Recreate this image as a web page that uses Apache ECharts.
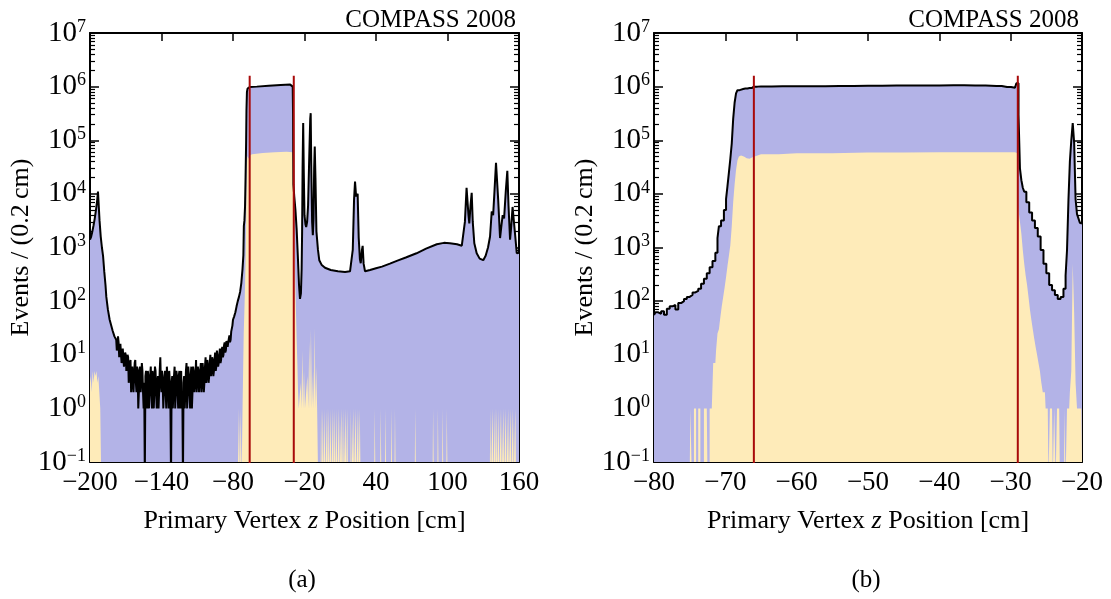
<!DOCTYPE html>
<html>
<head>
<meta charset="utf-8">
<script src="https://cdn.jsdelivr.net/npm/echarts@6/dist/echarts.min.js"></script>
<style>
html, body { margin: 0; padding: 0; background: #fff; }
#main { width: 1111px; height: 599px; }
</style>
</head>
<body>
<div id="main"></div>
<script>
'use strict';

// panel (a): all primary vertices, z from -200 to 160 cm
var aTotal = [
    [-200, 1400], [-199, 1600], [-198, 2000], [-197, 2600], [-196, 3500], [-195, 5000], [-194, 7500], [-193.3, 11000],
    [-192, 3200], [-191, 1600], [-190, 1000], [-189, 680], [-188, 350], [-187, 200], [-186.3, 120], [-185, 70],
    [-183.5, 45], [-181, 28], [-179.5, 22],
    // noisy region between the two targets
    [-178, 19], [-177.5, 12], [-177, 14], [-176.5, 22], [-176, 17], [-175.5, 9], [-175, 11], [-174.5, 16],
    [-174, 15], [-173.5, 7], [-173, 9], [-172.5, 13], [-172, 12], [-171.5, 6], [-171, 7], [-170.5, 11],
    [-170, 10], [-169.5, 5], [-169, 6], [-168.5, 10], [-168, 9], [-167.5, 3], [-167, 4], [-166.5, 7],
    [-166, 8], [-165.5, 2], [-165, 3], [-164.5, 6], [-164, 6], [-163.5, 2], [-163, 4], [-162.5, 7],
    [-162, 8], [-161.5, 3], [-161, 2], [-160.5, 6], [-160, 5], [-159.5, 1], [-159, 2], [-158.5, 5],
    [-158, 6], [-157.5, 2], [-157, 3], [-156.5, 7], [-156, 5], [-155.5, 2], [-155, 1], [-154.5, 3],
    [-154, 0], [-153.5, 4], [-153, 5], [-152.5, 2], [-152, 1], [-151.5, 5], [-151, 4], [-150.5, 1],
    [-150, 2], [-149.5, 4], [-149, 6], [-148.5, 2], [-148, 1], [-147.5, 5], [-147, 4], [-146.5, 1],
    [-146, 2], [-145.5, 6], [-145, 5], [-144.5, 2], [-144, 1], [-143.5, 3], [-143, 4], [-142.5, 1],
    [-142, 2], [-141.5, 5], [-141, 9], [-140.5, 3], [-140, 2], [-139.5, 5], [-139, 3], [-138.5, 1],
    [-138, 1], [-137.5, 4], [-137, 5], [-136.5, 2], [-136, 1], [-135.5, 6], [-135, 4], [-134.5, 2],
    [-134, 1], [-133.5, 5], [-133, 3], [-132.5, 1], [-132, 0], [-131.5, 3], [-131, 4], [-130.5, 1],
    [-130, 1], [-129.5, 4], [-129, 6], [-128.5, 1], [-128, 2], [-127.5, 5], [-127, 4], [-126.5, 2],
    [-126, 1], [-125.5, 4], [-125, 5], [-124.5, 1], [-124, 2], [-123.5, 5], [-123, 1], [-122.5, 2],
    [-122, 0], [-121.5, 3], [-121, 4], [-120.5, 1], [-120, 2], [-119.5, 5], [-119, 7], [-118.5, 1],
    [-118, 2], [-117.5, 6], [-117, 4], [-116.5, 2], [-116, 1], [-115.5, 4], [-115, 6], [-114.5, 1],
    [-114, 2], [-113.5, 6], [-113, 5], [-112.5, 2], [-112, 2], [-111.5, 4], [-111, 8], [-110.5, 2],
    [-110, 3], [-109.5, 6], [-109, 5], [-108.5, 2], [-108, 2], [-107.5, 5], [-107, 7], [-106.5, 2],
    [-106, 3], [-105.5, 7], [-105, 5], [-104.5, 2], [-104, 3], [-103.5, 6], [-103, 9], [-102.5, 3],
    [-102, 4], [-101.5, 8], [-101, 6], [-100.5, 3], [-100, 4], [-99.5, 7], [-99, 10], [-98.5, 4],
    [-98, 5], [-97.5, 9], [-97, 8], [-96.5, 4], [-96, 5], [-95.5, 8], [-95, 11], [-94.5, 5],
    [-94, 6], [-93.5, 12], [-93, 9], [-92.5, 6], [-92, 7], [-91.5, 10], [-91, 13], [-90.5, 7],
    [-90, 8], [-89.5, 12], [-89, 14], [-88.5, 9], [-88, 10], [-87.5, 15], [-87, 17], [-86.5, 11],
    [-86, 12], [-85.5, 18], [-85, 19], [-84.5, 14], [-84, 15], [-83.5, 20], [-83, 23], [-82.5, 17],
    [-82, 19], [-81.5, 27], [-81, 29], [-80.5, 35], [-80, 45],
    [-79, 52], [-78, 62], [-77, 80], [-76, 100], [-75, 120], [-74, 150], [-73, 220], [-72, 400], [-71.3, 720],
    [-70.9, 2500], [-70.4, 3200], [-69.9, 5800], [-69.5, 18000], [-69, 87000], [-68.7, 360000], [-68.3, 800000],
    [-67.8, 920000], [-66, 980000], [-60, 1000000], [-50, 1040000], [-40, 1070000], [-32, 1090000], [-30.4, 1080000],
    [-29.9, 1000000], [-29.6, 300000], [-29.3, 15000], [-28.6, 9000], [-27.6, 5000], [-26.6, 2200], [-25.6, 700],
    [-24.6, 200], [-23.8, 110], [-23, 140], [-22.4, 400], [-22, 2000], [-21.6, 30000], [-21.1, 210000], [-20.6, 25000],
    [-20, 4000], [-19.2, 2700], [-18.6, 2400], [-17.8, 3000], [-17, 6000], [-16, 50000], [-15.2, 250000],
    [-14.8, 320000], [-14.3, 30000], [-13.6, 3000], [-13, 1700], [-12.4, 3500], [-11.9, 30000], [-11.4, 76000],
    [-10.8, 20000], [-10, 2000], [-8.7, 900], [-7.6, 580], [-5.5, 470], [-2.8, 420], [2, 380], [8, 360], [14, 350],
    [18.2, 360], [20.5, 900], [21.6, 8000], [22.4, 17000], [23.3, 9000], [24.6, 10000], [25.5, 1500], [26.5, 600],
    [27.2, 510], [28.2, 900], [28.8, 1070], [29.6, 500], [30.8, 360], [35, 380], [40, 410], [45, 440], [51.7, 500],
    [58, 570], [65, 650], [74, 780], [82, 950], [91, 1150], [97, 1220], [102, 1200], [108, 1150], [112, 1080],
    [113.3, 1150], [114.6, 3000], [116, 13000], [116.6, 12000], [117.6, 4000], [118.3, 2800], [119.3, 6000],
    [120.3, 10500], [121.2, 3000], [122.5, 1200], [124.5, 780], [127, 620], [130, 580], [132, 700], [134, 1000],
    [135.7, 1600], [137.1, 4700], [138.3, 4000], [139.5, 12000], [140.7, 38000], [141.5, 40000], [142.5, 8000],
    [144.1, 1500], [145.2, 2500], [146.3, 4000], [147.5, 3500], [149, 12000], [150.2, 27000], [151.2, 6000],
    [152.5, 1400], [153.5, 2500], [154.6, 5700], [155.8, 5700], [157, 1500], [158.1, 780], [160, 800]
];
// panel (a): vertices inside the target cut
var aSelected = [
    [-200, 3], [-199.4, 4], [-198.6, 2], [-197.8, 5], [-197, 3], [-196.2, 5], [-195.4, 4], [-194.6, 5], [-193.8, 3],
    [-193, 4], [-192.2, 2], [-191.4, 1], [-190.6, 0], [-76, 0], [-75, 1], [-74.2, 0], [-73.6, 1], [-72.8, 0],
    [-72, 1], [-71.4, 7], [-71, 25], [-70.5, 60], [-69.9, 190], [-69.2, 1000], [-68.8, 7600], [-68.4, 28000],
    [-68.1, 46000], [-67.8, 51000], [-66.9, 45000], [-66, 52000], [-64, 55000], [-55, 58000], [-45, 60000],
    [-35, 61000], [-30, 60000], [-29.5, 58000], [-29, 9000], [-28.4, 1800], [-27.8, 300], [-27.2, 70], [-26.6, 20],
    [-26, 7], [-25.4, 2], [-24.8, 1], [-24, 1], [-23.2, 3], [-22.6, 1], [-21.8, 12], [-21.2, 1], [-20.4, 5],
    [-19.6, 1], [-18.6, 1], [-17.6, 4], [-16.8, 1], [-16, 18], [-15.4, 1], [-14.6, 30], [-13.8, 1], [-12.8, 5],
    [-12.2, 1], [-11.4, 32], [-10.8, 1], [-10.2, 6], [-9.4, 1], [-8.6, 0]
];
// single selected events scattered downstream
var aSelectedOnes = [-6, -4.5, -3, -1, 0.5, 2, 4, 5.5, 7, 9, 11, 12.5, 14.5, 16, 19, 21, 23, 25, 26.5,
    39, 44, 48, 53, 56, 73, 88, 92, 96, 99.5, 136, 138, 140, 141.5, 143, 145, 147, 149, 151, 153, 155, 157];

// panel (b): zoom on the target region
var bTotal = [
    [-80, 55], [-79.6, 62], [-79.2, 58], [-78.8, 65], [-78.4, 56], [-78, 72], [-77.6, 80], [-77.2, 85], [-76.8, 70],
    [-76.4, 92], [-76, 100], [-75.6, 110], [-75.2, 120], [-74.8, 130], [-74.4, 145], [-74, 155], [-73.6, 170],
    [-73.2, 210], [-72.8, 260], [-72.4, 330], [-72, 430], [-71.6, 560], [-71.2, 800], [-71, 1500], [-70.8, 2500],
    [-70.4, 3200], [-70, 5000], [-69.8, 8000], [-69.6, 14000], [-69.4, 25000], [-69.2, 45000], [-69, 87000],
    [-68.8, 250000], [-68.6, 500000], [-68.4, 750000], [-68.2, 860000], [-67.8, 900000], [-67.2, 920000],
    [-66.6, 940000], [-66, 1000000], [-65, 1010000], [-62, 1015000], [-58, 1020000], [-54, 1030000],
    [-50, 1040000], [-46, 1050000], [-42, 1055000], [-38, 1060000], [-35, 1050000], [-32, 1030000],
    [-30.5, 980000], [-29.4, 950000],
    [-29, 1150000], [-28.8, 300000], [-28.6, 30000], [-28.4, 18000], [-28.2, 13000], [-28, 11000], [-27.6, 7000],
    [-27.2, 4500], [-26.8, 3200], [-26.4, 2300], [-26, 1600], [-25.6, 900], [-25.2, 500], [-24.8, 330],
    [-24.4, 200], [-24, 160], [-23.6, 130], [-23.2, 110], [-22.8, 120], [-22.4, 170], [-22.2, 300], [-22, 900],
    [-21.8, 7600], [-21.6, 40000], [-21.4, 100000], [-21.2, 210000], [-21, 90000], [-20.8, 8000], [-20.6, 4200],
    [-20.4, 3500], [-20.2, 2900], [-20, 2800]
];
var bSelected = [
    [-80, 0], [-75, 0], [-74.8, 1], [-74.6, 0], [-74.2, 1], [-74, 0], [-73.6, 1], [-73.4, 0], [-72.6, 1], [-72.4, 0],
    [-72, 1], [-71.8, 1], [-71.6, 7], [-71.4, 7], [-71.2, 12], [-71, 25], [-70.8, 30], [-70.6, 50], [-70.4, 80],
    [-70.2, 120], [-70, 180], [-69.8, 280], [-69.6, 450], [-69.4, 700], [-69.2, 1100], [-69, 2500], [-68.8, 7000],
    [-68.6, 15000], [-68.4, 28000], [-68.2, 42000], [-68, 50000], [-67.8, 52000], [-67.6, 50000], [-67.2, 46000],
    [-66.8, 45000], [-66.4, 48000], [-66, 52000], [-65, 55000], [-60, 57000], [-50, 59000], [-40, 60000],
    [-32, 60000], [-29.4, 60000], [-29.2, 58000], [-29, 9000], [-28.8, 5000], [-28.6, 3000], [-28.4, 1800],
    [-28.2, 900], [-28, 500], [-27.8, 300], [-27.6, 200], [-27.4, 120], [-27.2, 70], [-27, 45], [-26.8, 30],
    [-26.6, 20], [-26.4, 14], [-26.2, 10], [-26, 7], [-25.8, 5], [-25.6, 3], [-25.4, 2], [-25.2, 2], [-25, 1],
    [-24.8, 1], [-24.6, 0], [-24.4, 1], [-24.2, 1], [-24, 0], [-23.8, 1], [-23.6, 0], [-23.4, 1], [-23.2, 1],
    [-23, 0], [-22.6, 0], [-22.4, 1], [-22.2, 0], [-22, 1], [-21.8, 1], [-21.6, 2], [-21.4, 5], [-21.2, 500],
    [-21, 60], [-20.8, 3], [-20.6, 1], [-20.4, 1], [-20.2, 1], [-20, 1]
];

var cuts = [-66, -29];
var cutTop = 1.6e6;
var aTicks = [-200, -140, -80, -20, 40, 100, 160];
var bTicks = [-80, -70, -60, -50, -40, -30, -20];

var FONT = '"Liberation Serif", "Times New Roman", serif';
var FLOOR = 0.05; // empty bins fall below the axis and get clipped
var purple = '#b3b3e7';
var yellow = '#feebb9';
var red = '#a80a0a';

function clean(points) {
    return points.map(function (p) {
        return [p[0], p[1] > 0 ? p[1] : FLOOR];
    });
}

function withOnes(points, ones) {
    var out = points.slice();
    ones.forEach(function (x) {
        out.push([x - 0.5, 0], [x - 0.1, 1], [x + 0.1, 1], [x + 0.5, 0]);
    });
    out.sort(function (a, b) { return a[0] - b[0]; });
    return out;
}

function minus(v) {
    return v < 0 ? '\u2212' + (-v) : String(v);
}

function power(v) {
    var e = Math.round(v);
    return '{b|10}{e|' + (e < 0 ? '\u2212' + (-e) : e) + '}';
}

var minorLogs = [];
for (var n = -1; n < 7; n++) {
    for (var k = 2; k <= 9; k++) {
        minorLogs.push(n + Math.log10(k));
    }
}

function xAxes(gi, min, max, ticks) {
    var line = {onZero: false, lineStyle: {color: '#000', width: 2}};
    return [{
        type: 'value', gridIndex: gi, position: 'bottom', min: min, max: max,
        axisLine: line,
        axisTick: {inside: true, length: 8, customValues: ticks, lineStyle: {color: '#000', width: 1.5}},
        axisLabel: {customValues: ticks, formatter: minus, margin: 7, color: '#000', fontFamily: FONT, fontSize: 27},
        splitLine: {show: false},
        name: '{n|Primary Vertex }{i|z}{n| Position [cm]}',
        nameLocation: 'middle', nameGap: 46,
        nameTextStyle: {
            rich: {
                n: {fontFamily: FONT, fontSize: 26, color: '#000'},
                i: {fontFamily: FONT, fontSize: 26, color: '#000', fontStyle: 'italic'}
            }
        }
    }, {
        type: 'value', gridIndex: gi, position: 'top', min: min, max: max,
        axisLine: line,
        axisTick: {inside: true, length: 8, customValues: ticks, lineStyle: {color: '#000', width: 1.5}},
        axisLabel: {show: false},
        splitLine: {show: false}
    }];
}

function yAxes(gi) {
    var line = {onZero: false, lineStyle: {color: '#000', width: 2}};
    var hidden = {show: false, onZero: false};
    var major = {inside: true, length: 9, lineStyle: {color: '#000', width: 1.5}};
    var minor = {inside: true, length: 5, customValues: minorLogs, lineStyle: {color: '#000', width: 1.2}};
    return [
        // data scale
        {type: 'log', logBase: 10, gridIndex: gi, min: 0.1, max: 1e7, show: false},
        {
            type: 'value', gridIndex: gi, position: 'left', min: -1, max: 7, interval: 1,
            axisLine: line, axisTick: major, splitLine: {show: false},
            axisLabel: {
                formatter: power, margin: 4, color: '#000',
                rich: {
                    b: {fontFamily: FONT, fontSize: 29, lineHeight: 30, color: '#000'},
                    e: {fontFamily: FONT, fontSize: 18, lineHeight: 18, verticalAlign: 'top', color: '#000'}
                }
            },
            name: 'Events / (0.2\u2009cm)', nameLocation: 'middle', nameGap: 56,
            nameTextStyle: {fontFamily: FONT, fontSize: 26, color: '#000'}
        },
        {
            type: 'value', gridIndex: gi, position: 'right', min: -1, max: 7, interval: 1,
            axisLine: line, axisTick: major, axisLabel: {show: false}, splitLine: {show: false}
        },
        {
            type: 'value', gridIndex: gi, position: 'left', min: -1, max: 7,
            axisLine: hidden, axisTick: minor, axisLabel: {show: false}, splitLine: {show: false}
        },
        {
            type: 'value', gridIndex: gi, position: 'right', min: -1, max: 7,
            axisLine: hidden, axisTick: minor, axisLabel: {show: false}, splitLine: {show: false}
        }
    ];
}

function panelSeries(xi, yi, total, selected, step) {
    var list = [{
        type: 'line', xAxisIndex: xi, yAxisIndex: yi, data: clean(total), step: step,
        symbol: 'none', lineStyle: {width: 0, opacity: 0},
        areaStyle: {color: purple, opacity: 1, origin: 0.1}
    }, {
        type: 'line', xAxisIndex: xi, yAxisIndex: yi, data: clean(selected), step: step,
        symbol: 'none', lineStyle: {width: 0, opacity: 0},
        areaStyle: {color: yellow, opacity: 1, origin: 0.1}
    }, {
        type: 'line', xAxisIndex: xi, yAxisIndex: yi, data: clean(total), step: step,
        symbol: 'none', lineStyle: {color: '#000', width: 2}
    }];
    cuts.forEach(function (c) {
        list.push({
            type: 'line', xAxisIndex: xi, yAxisIndex: yi, data: [[c, FLOOR], [c, cutTop]],
            symbol: 'none', lineStyle: {color: red, width: 2}
        });
    });
    return list;
}

function label(text, x, y, align) {
    return {
        type: 'text', x: x, y: y,
        style: {text: text, fill: '#000', font: '25px ' + FONT, align: align, verticalAlign: 'bottom'}
    };
}

var option = {
    animation: false,
    backgroundColor: '#fff',
    grid: [
        {left: 90, top: 33, width: 429, height: 429},
        {left: 654, top: 33, width: 428, height: 429}
    ],
    xAxis: xAxes(0, -200, 160, aTicks).concat(xAxes(1, -80, -20, bTicks)),
    yAxis: yAxes(0).concat(yAxes(1)),
    series: panelSeries(0, 0, aTotal, withOnes(aSelected, aSelectedOnes), false)
        .concat(panelSeries(2, 5, bTotal, bSelected, 'middle')),
    graphic: [
        label('COMPASS 2008', 516, 33, 'right'),
        label('COMPASS 2008', 1079, 33, 'right'),
        label('(a)', 302, 593, 'center'),
        label('(b)', 866, 593, 'center')
    ]
};

var myChart = echarts.init(document.getElementById('main'));
myChart.setOption(option);
</script>
</body>
</html>
